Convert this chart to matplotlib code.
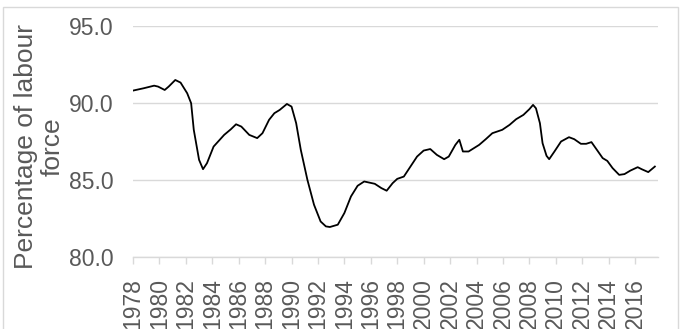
import matplotlib
matplotlib.use("Agg")
import matplotlib.pyplot as plt
from matplotlib.patches import Rectangle
from matplotlib.ticker import FormatStrFormatter

# employment rate (decimal year, % of labour force)
years = [1978.0, 1978.8, 1979.6, 1979.9, 1980.4, 1980.7, 1981.2, 1981.6, 1982.1,
         1982.4, 1982.6, 1983.0, 1983.3, 1983.6, 1984.1, 1984.9, 1985.4, 1985.8,
         1986.2, 1986.8, 1987.4, 1987.8, 1988.3, 1988.7, 1989.1, 1989.65, 1990.0,
         1990.35, 1990.7, 1991.2, 1991.7, 1992.2, 1992.6, 1992.9, 1993.5, 1994.0,
         1994.5, 1995.0, 1995.5, 1996.3, 1996.8, 1997.2, 1997.65, 1998.0, 1998.5,
         1999.0, 1999.5, 2000.0, 2000.5, 2001.0, 2001.55, 2001.9, 2002.4, 2002.7,
         2002.97, 2003.4, 2004.2, 2004.7, 2005.2, 2005.95, 2006.5, 2007.0, 2007.55,
         2008.0, 2008.28, 2008.5, 2008.8, 2009.0, 2009.3, 2009.5, 2009.9, 2010.4,
         2011.0, 2011.4, 2011.9, 2012.3, 2012.7, 2013.2, 2013.55, 2013.9, 2014.3,
         2014.8, 2015.2, 2015.65, 2016.2, 2016.5, 2017.0, 2017.5]
rate = [90.82, 90.97, 91.14, 91.08, 90.86, 91.08, 91.51, 91.34, 90.65,
        90.0, 88.27, 86.32, 85.71, 86.1, 87.18, 87.94, 88.3, 88.63,
        88.48, 87.94, 87.73, 88.05, 88.92, 89.35, 89.56, 89.95, 89.78,
        88.7, 86.97, 85.02, 83.4, 82.31, 81.99, 81.95, 82.1, 82.86,
        83.94, 84.63, 84.91, 84.76, 84.48, 84.31, 84.8, 85.08, 85.23,
        85.88, 86.53, 86.92, 87.02, 86.64, 86.36, 86.53, 87.29, 87.62,
        86.86, 86.86, 87.29, 87.66, 88.05, 88.27, 88.59, 88.96, 89.24,
        89.61, 89.89, 89.67, 88.7, 87.4, 86.58, 86.36, 86.86, 87.51,
        87.79, 87.66, 87.36, 87.36, 87.47, 86.86, 86.43, 86.25, 85.78,
        85.34, 85.39, 85.62, 85.84, 85.71, 85.52, 85.88]

tick_years = list(range(1978, 2017, 2))
y_ticks = [80, 85, 90, 95]

plt.rcParams['font.family'] = ['Liberation Sans', 'DejaVu Sans']

fig = plt.figure(figsize=(6.84, 3.29), dpi=100)
ax = fig.add_axes([133 / 684, 1 - 257 / 329, (657.5 - 133) / 684, (257 - 26.3) / 329])

# light outer frame like the spreadsheet chart area
fig.patches.append(Rectangle((3 / 684, -0.2), 675 / 684, 1.2 - 7 / 329,
                             transform=fig.transFigure, fill=False,
                             edgecolor='#d9d9d9', linewidth=1))

ax.plot(years, rate, color='black', linewidth=1.3)

ax.set_xlim(1978, 2017.7)
ax.set_ylim(80, 95)
ax.set_yticks(y_ticks)
ax.yaxis.set_major_formatter(FormatStrFormatter('%.1f'))
ax.set_xticks(tick_years)
ax.set_xticklabels([str(y) for y in tick_years], rotation=90, va='top', ha='center')

ax.grid(axis='y', color='#d9d9d9', linewidth=1)
ax.set_axisbelow(True)
for s in ['top', 'right', 'left']:
    ax.spines[s].set_visible(False)
ax.spines['bottom'].set_color('#d9d9d9')
ax.spines['bottom'].set_linewidth(1)

ax.tick_params(axis='y', length=0, pad=14, labelsize=16.5, labelcolor='#595959')
ax.tick_params(axis='x', length=5, width=1, color='#d9d9d9', pad=10,
               labelsize=16.5, labelcolor='#595959')

ax.set_ylabel('Percentage of labour\nforce', fontsize=19, color='#595959',
              linespacing=1.15, labelpad=3)
ax.yaxis.label.set_y(0.48)

fig.savefig('out.png', dpi=100)
